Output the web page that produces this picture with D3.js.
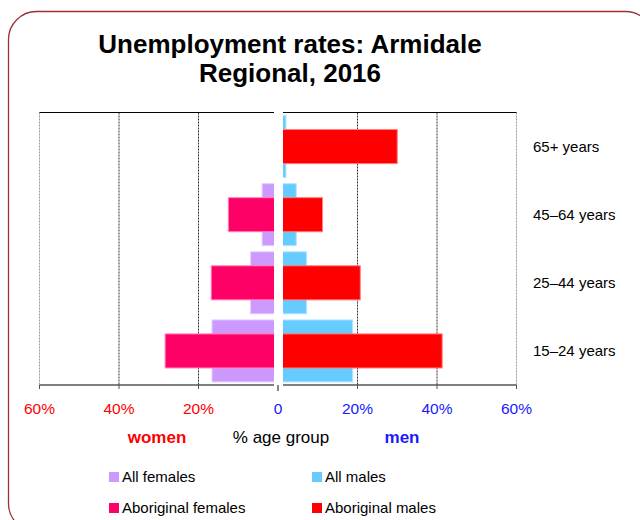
<!DOCTYPE html>
<html>
<head>
<meta charset="utf-8">
<script src="https://cdn.jsdelivr.net/npm/d3@7"></script>
<style>
  body { margin: 0; background: #fff; }
  svg { display: block; font-family: "Liberation Sans", Arial, sans-serif; }
</style>
</head>
<body>
<div id="body"></div>
<script>
// age groups, top to bottom
var ageGroups = ["65+ years", "45–64 years", "25–44 years", "15–24 years"];
// unemployment rate, % of age group
var allFemales = [0, 4.0, 6.9, 16.6];
var aboriginalFemales = [0, 12.5, 16.8, 28.4];
var allMales = [2.0, 4.6, 7.2, 18.8];
var aboriginalMales = [30.0, 11.2, 20.7, 41.3];
var ticks = [-60, -40, -20, 0, 20, 40, 60];

var width = 640;
var height = 520;

var allFemaleColor = "#cc99ff";
var aboFemaleColor = "#ff0066";
var allMaleColor = "#66ccff";
var aboMaleColor = "#ff0000";
var womenColor = "#ff0000";
var menColor = "#1a1aff";

var svg = d3
  .select("#body")
  .append("svg")
  .attr("width", width)
  .attr("height", height);

// rounded frame
svg.append("rect")
  .attr("x", 8.5)
  .attr("y", 11.5)
  .attr("width", 645)
  .attr("height", 520)
  .attr("rx", 28)
  .attr("fill", "none")
  .attr("stroke", "#993333")
  .attr("stroke-width", 1.3);

// title
svg.append("text")
  .attr("x", 290)
  .attr("y", 53)
  .attr("text-anchor", "middle")
  .attr("font-size", 26)
  .attr("font-weight", "bold")
  .text("Unemployment rates: Armidale");
svg.append("text")
  .attr("x", 290)
  .attr("y", 82)
  .attr("text-anchor", "middle")
  .attr("font-size", 26)
  .attr("font-weight", "bold")
  .text("Regional, 2016");

var plotTop = 112.5;
var plotBottom = 385;
var leftEdge = 39.5;
var rightEdge = 516.5;

var x = d3.scaleLinear().domain([-60, 60]).range([leftEdge, rightEdge]);
var y = d3.scaleBand().domain(ageGroups).range([plotTop, plotBottom]).paddingInner(0.09).paddingOuter(0.045);

var rows = ageGroups.map(function (g, i) {
  return {
    group: g,
    allF: allFemales[i],
    aboF: aboriginalFemales[i],
    allM: allMales[i],
    aboM: aboriginalMales[i]
  };
});

// two panels with a gap in the middle
var panels = [
  { x0: leftEdge, x1: 274, id: "clipL" },
  { x0: 283, x1: rightEdge, id: "clipR" }
];

var defs = svg.append("defs");
panels.forEach(function (p) {
  defs.append("clipPath")
    .attr("id", p.id)
    .append("rect")
    .attr("x", p.x0)
    .attr("y", plotTop - 2)
    .attr("width", p.x1 - p.x0)
    .attr("height", plotBottom - plotTop + 4);
});

// gridlines
var grid = svg.append("g");
grid.selectAll("line")
  .data(ticks.filter(function (t) { return t !== 0; }))
  .enter()
  .append("line")
  .attr("x1", function (d) { return x(d); })
  .attr("x2", function (d) { return x(d); })
  .attr("y1", plotTop)
  .attr("y2", plotBottom)
  .attr("stroke", function (d) { return Math.abs(d) === 60 ? "#999" : "#333"; })
  .attr("stroke-width", 1)
  .attr("stroke-dasharray", "2,1");

// bars
function barX(v) { return Math.min(x(0), x(v)); }
function barW(v) { return Math.abs(x(v) - x(0)); }

var inner = y.bandwidth() * 0.55;

var women = svg.append("g").attr("clip-path", "url(#clipL)");
var men = svg.append("g").attr("clip-path", "url(#clipR)");

women.selectAll(".allF")
  .data(rows)
  .enter()
  .append("rect")
  .attr("x", function (d) { return barX(-d.allF); })
  .attr("y", function (d) { return y(d.group); })
  .attr("width", function (d) { return barW(-d.allF); })
  .attr("height", y.bandwidth())
  .attr("fill", allFemaleColor)
  .attr("stroke", "#e6ccff")
  .attr("stroke-width", function (d) { return d.allF > 0 ? 1 : 0; });

women.selectAll(".aboF")
  .data(rows)
  .enter()
  .append("rect")
  .attr("x", function (d) { return barX(-d.aboF); })
  .attr("y", function (d) { return y(d.group) + (y.bandwidth() - inner) / 2; })
  .attr("width", function (d) { return barW(-d.aboF); })
  .attr("height", inner)
  .attr("fill", aboFemaleColor)
  .attr("stroke", "#ff88bb")
  .attr("stroke-width", function (d) { return d.aboF > 0 ? 1 : 0; });

men.selectAll(".allM")
  .data(rows)
  .enter()
  .append("rect")
  .attr("x", function (d) { return barX(d.allM); })
  .attr("y", function (d) { return y(d.group); })
  .attr("width", function (d) { return barW(d.allM); })
  .attr("height", y.bandwidth())
  .attr("fill", allMaleColor)
  .attr("stroke", "#b3e6ff")
  .attr("stroke-width", 1);

men.selectAll(".aboM")
  .data(rows)
  .enter()
  .append("rect")
  .attr("x", function (d) { return barX(d.aboM); })
  .attr("y", function (d) { return y(d.group) + (y.bandwidth() - inner) / 2; })
  .attr("width", function (d) { return barW(d.aboM); })
  .attr("height", inner)
  .attr("fill", aboMaleColor)
  .attr("stroke", "#ff8080")
  .attr("stroke-width", 1);

// panel top/bottom borders
panels.forEach(function (p) {
  [plotTop, plotBottom].forEach(function (yy) {
    svg.append("line")
      .attr("x1", p.x0)
      .attr("x2", p.x1)
      .attr("y1", yy)
      .attr("y2", yy)
      .attr("stroke", "#000")
      .attr("stroke-width", 1);
  });
});

// tick marks + labels
var axis = svg.append("g");
axis.selectAll("line")
  .data(ticks)
  .enter()
  .append("line")
  .attr("x1", function (d) { return x(d); })
  .attr("x2", function (d) { return x(d); })
  .attr("y1", plotBottom)
  .attr("y2", function (d) { return d === 0 ? plotBottom + 6 : plotBottom + 4; })
  .attr("stroke", function (d) { return d === 0 ? "#888" : "#555"; })
  .attr("stroke-width", function (d) { return d === 0 ? 2 : 1; });

axis.selectAll("text")
  .data(ticks)
  .enter()
  .append("text")
  .attr("x", function (d) { return x(d); })
  .attr("y", 414)
  .attr("text-anchor", "middle")
  .attr("font-size", 15.5)
  .attr("fill", function (d) { return d < 0 ? womenColor : menColor; })
  .text(function (d) { return d === 0 ? "0" : Math.abs(d) + "%"; });

// axis titles
svg.append("text")
  .attr("x", 157)
  .attr("y", 443)
  .attr("text-anchor", "middle")
  .attr("font-size", 17)
  .attr("font-weight", "bold")
  .attr("fill", womenColor)
  .text("women");
svg.append("text")
  .attr("x", 281)
  .attr("y", 443)
  .attr("text-anchor", "middle")
  .attr("font-size", 17)
  .attr("fill", "#000")
  .text("% age group");
svg.append("text")
  .attr("x", 402)
  .attr("y", 443)
  .attr("text-anchor", "middle")
  .attr("font-size", 17)
  .attr("font-weight", "bold")
  .attr("fill", menColor)
  .text("men");

// age group labels
svg.append("g")
  .selectAll("text")
  .data(ageGroups)
  .enter()
  .append("text")
  .attr("x", 533)
  .attr("y", function (d) { return y(d) + y.bandwidth() / 2 + 5.5; })
  .attr("font-size", 15)
  .attr("fill", "#000")
  .text(function (d) { return d; });

// legend
var legendItems = [
  { label: "All females", color: allFemaleColor, x: 109, y: 472 },
  { label: "All males", color: allMaleColor, x: 312, y: 472 },
  { label: "Aboriginal females", color: aboFemaleColor, x: 109, y: 503 },
  { label: "Aboriginal males", color: aboMaleColor, x: 312, y: 503 }
];
var legend = svg.append("g");
legend.selectAll("rect")
  .data(legendItems)
  .enter()
  .append("rect")
  .attr("x", function (d) { return d.x; })
  .attr("y", function (d) { return d.y; })
  .attr("width", 10)
  .attr("height", 10)
  .attr("fill", function (d) { return d.color; });
legend.selectAll("text")
  .data(legendItems)
  .enter()
  .append("text")
  .attr("x", function (d) { return d.x + 13; })
  .attr("y", function (d) { return d.y + 10; })
  .attr("font-size", 15)
  .attr("fill", "#000")
  .text(function (d) { return d.label; });
</script>
</body>
</html>
